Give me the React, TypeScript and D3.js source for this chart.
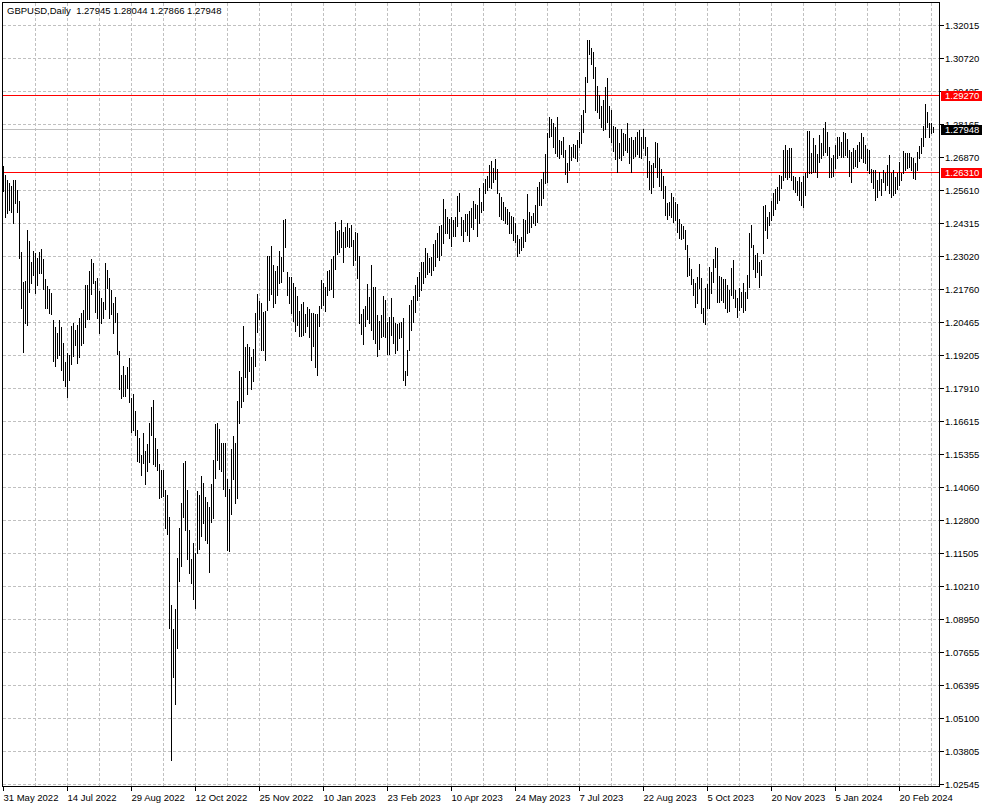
import React from "react";
import * as d3 from "d3";

const symbolTitle = "GBPUSD,Daily";
const lastBarOHLC = [1.27945, 1.28044, 1.27866, 1.27948];
const bidPrice = 1.27948;
const alertLevels = [1.2927, 1.2631];

const priceTickLabels = [
  "1.32015", "1.30720", "1.29425", "1.28165", "1.26870", "1.25610", "1.24315", "1.23020",
  "1.21760", "1.20465", "1.19205", "1.17910", "1.16615", "1.15355", "1.14060", "1.12800",
  "1.11505", "1.10210", "1.08950", "1.07655", "1.06395", "1.05100", "1.03805", "1.02545",
];

const dateLabels = [
  "31 May 2022", "14 Jul 2022", "29 Aug 2022", "12 Oct 2022", "25 Nov 2022", "10 Jan 2023",
  "23 Feb 2023", "10 Apr 2023", "24 May 2023", "7 Jul 2023", "22 Aug 2023", "5 Oct 2023",
  "20 Nov 2023", "5 Jan 2024", "20 Feb 2024",
];
const barsPerDateLabel = 32;
const barsPerGridColumn = 16;

const high = [
  1.2654, 1.2619, 1.2600, 1.2588, 1.2576, 1.2600, 1.2600, 1.2561, 1.2518, 1.2320,
  1.2204, 1.2208, 1.2406, 1.2363, 1.2281, 1.2324, 1.2316, 1.2297, 1.2320, 1.2332,
  1.2293, 1.2215, 1.2188, 1.2176, 1.2161, 1.2056, 1.2029, 1.2006, 1.2056, 1.2029,
  1.1967, 1.1893, 1.1928, 1.1920, 1.2033, 1.2044, 1.2017, 1.2037, 1.2064, 1.2083,
  1.2095, 1.2192, 1.2192, 1.2246, 1.2293, 1.2277, 1.2208, 1.2219, 1.2169, 1.2142,
  1.2126, 1.2277, 1.2250, 1.2219, 1.2173, 1.2122, 1.2145, 1.2083, 1.1936, 1.1843,
  1.1877, 1.1843, 1.1874, 1.1908, 1.1753, 1.1769, 1.1703, 1.1629, 1.1598, 1.1532,
  1.1617, 1.1547, 1.1575, 1.1656, 1.1718, 1.1745, 1.1598, 1.1555, 1.1497, 1.1474,
  1.1474, 1.1396, 1.1376, 1.1291, 1.0949, 1.0856, 1.0934, 1.1132, 1.1248, 1.1346,
  1.1501, 1.1509, 1.1396, 1.1241, 1.1128, 1.1190, 1.1151, 1.1392, 1.1376, 1.1450,
  1.1423, 1.1369, 1.1349, 1.1330, 1.1419, 1.1512, 1.1652, 1.1656, 1.1633, 1.1578,
  1.1578, 1.1578, 1.1439, 1.1400, 1.1555, 1.1606, 1.1578, 1.1742, 1.1858, 1.1835,
  1.2033, 1.1951, 1.1963, 1.1951, 1.1912, 1.1943, 1.2083, 1.2157, 1.2130, 1.2122,
  1.2087, 1.2091, 1.2305, 1.2305, 1.2343, 1.2270, 1.2246, 1.2266, 1.2324, 1.2301,
  1.2444, 1.2448, 1.2242, 1.2223, 1.2223, 1.2200, 1.2184, 1.2149, 1.2091, 1.2118,
  1.2126, 1.2079, 1.2107, 1.2099, 1.2083, 1.2083, 1.2079, 1.2079, 1.2110, 1.2211,
  1.2200, 1.2184, 1.2246, 1.2250, 1.2293, 1.2305, 1.2437, 1.2402, 1.2406, 1.2444,
  1.2398, 1.2417, 1.2433, 1.2413, 1.2425, 1.2367, 1.2398, 1.2394, 1.2305, 1.2079,
  1.2099, 1.2110, 1.2196, 1.2145, 1.2270, 1.2184, 1.2184, 1.2076, 1.2052, 1.2076,
  1.2149, 1.2134, 1.2048, 1.2068, 1.2142, 1.2068, 1.2044, 1.2041, 1.2044, 1.2048,
  1.2064, 1.1858, 1.1940, 1.2114, 1.2134, 1.2149, 1.2192, 1.2223, 1.2242, 1.2281,
  1.2281, 1.2336, 1.2316, 1.2297, 1.2301, 1.2351, 1.2367, 1.2394, 1.2421, 1.2425,
  1.2526, 1.2487, 1.2456, 1.2448, 1.2456, 1.2444, 1.2456, 1.2538, 1.2549, 1.2456,
  1.2444, 1.2468, 1.2468, 1.2479, 1.2491, 1.2518, 1.2506, 1.2503, 1.2569, 1.2514,
  1.2588, 1.2604, 1.2615, 1.2658, 1.2673, 1.2646, 1.2681, 1.2642, 1.2549, 1.2534,
  1.2514, 1.2495, 1.2487, 1.2475, 1.2460, 1.2456, 1.2433, 1.2386, 1.2371, 1.2378,
  1.2448, 1.2444, 1.2545, 1.2475, 1.2460, 1.2472, 1.2503, 1.2573, 1.2592, 1.2604,
  1.2631, 1.2701, 1.2782, 1.2844, 1.2837, 1.2821, 1.2806, 1.2844, 1.2755, 1.2751,
  1.2767, 1.2716, 1.2666, 1.2736, 1.2728, 1.2739, 1.2736, 1.2755, 1.2786, 1.2852,
  1.2872, 1.3000, 1.3143, 1.3143, 1.3112, 1.3097, 1.3038, 1.2965, 1.2930, 1.2887,
  1.2910, 1.2961, 1.2996, 1.2887, 1.2872, 1.2809, 1.2806, 1.2798, 1.2743, 1.2798,
  1.2782, 1.2778, 1.2821, 1.2763, 1.2767, 1.2755, 1.2767, 1.2786, 1.2794, 1.2767,
  1.2798, 1.2767, 1.2728, 1.2673, 1.2658, 1.2666, 1.2747, 1.2743, 1.2685, 1.2642,
  1.2615, 1.2576, 1.2510, 1.2514, 1.2549, 1.2534, 1.2514, 1.2506, 1.2448, 1.2429,
  1.2421, 1.2406, 1.2347, 1.2297, 1.2254, 1.2215, 1.2200, 1.2223, 1.2273, 1.2219,
  1.2103, 1.2180, 1.2196, 1.2262, 1.2242, 1.2293, 1.2340, 1.2336, 1.2227, 1.2223,
  1.2215, 1.2215, 1.2192, 1.2173, 1.2258, 1.2289, 1.2173, 1.2142, 1.2180, 1.2165,
  1.2200, 1.2165, 1.2231, 1.2394, 1.2425, 1.2347, 1.2308, 1.2316, 1.2281, 1.2289,
  1.2499, 1.2503, 1.2456, 1.2475, 1.2518, 1.2549, 1.2565, 1.2573, 1.2619, 1.2615,
  1.2716, 1.2736, 1.2716, 1.2724, 1.2724, 1.2615, 1.2611, 1.2596, 1.2611, 1.2592,
  1.2615, 1.2627, 1.2790, 1.2790, 1.2705, 1.2763, 1.2736, 1.2701, 1.2774, 1.2743,
  1.2802, 1.2825, 1.2786, 1.2728, 1.2685, 1.2697, 1.2736, 1.2767, 1.2767, 1.2747,
  1.2786, 1.2782, 1.2759, 1.2716, 1.2708, 1.2724, 1.2716, 1.2736, 1.2747, 1.2782,
  1.2767, 1.2736, 1.2720, 1.2716, 1.2642, 1.2639, 1.2639, 1.2600, 1.2631, 1.2604,
  1.2639, 1.2627, 1.2658, 1.2697, 1.2627, 1.2639, 1.2611, 1.2627, 1.2670, 1.2627,
  1.2712, 1.2705, 1.2705, 1.2705, 1.2689, 1.2685, 1.2666, 1.2708, 1.2732, 1.2763,
  1.2809, 1.2895, 1.2864, 1.2821, 1.2821, 1.28044,
];

const low = [
  1.2557, 1.2456, 1.2472, 1.2483, 1.2475, 1.2433, 1.2510, 1.2475, 1.2297, 1.2103,
  1.1932, 1.2044, 1.2037, 1.2165, 1.2200, 1.2231, 1.2161, 1.2192, 1.2239, 1.2239,
  1.2176, 1.2103, 1.2103, 1.2083, 1.2079, 1.1897, 1.1877, 1.1908, 1.1920, 1.1862,
  1.1823, 1.1800, 1.1757, 1.1823, 1.1885, 1.1916, 1.1959, 1.1889, 1.1912, 1.1959,
  1.1967, 1.2029, 1.2060, 1.2060, 1.2157, 1.2200, 1.2087, 1.2064, 1.2006, 1.2044,
  1.2064, 1.2099, 1.2180, 1.2064, 1.2079, 1.2006, 1.2048, 1.1924, 1.1788, 1.1753,
  1.1761, 1.1761, 1.1792, 1.1738, 1.1621, 1.1629, 1.1610, 1.1509, 1.1505, 1.1454,
  1.1501, 1.1419, 1.1470, 1.1505, 1.1610, 1.1497, 1.1489, 1.1474, 1.1365, 1.1369,
  1.1373, 1.1248, 1.1225, 1.0860, 1.0348, 1.0670, 1.0565, 1.0782, 1.1043, 1.1101,
  1.1291, 1.1241, 1.1128, 1.1074, 1.1035, 1.0973, 1.0938, 1.1151, 1.1167, 1.1217,
  1.1268, 1.1202, 1.1190, 1.1078, 1.1272, 1.1287, 1.1443, 1.1512, 1.1478, 1.1470,
  1.1400, 1.1373, 1.1163, 1.1159, 1.1303, 1.1439, 1.1346, 1.1365, 1.1656, 1.1718,
  1.1742, 1.1835, 1.1769, 1.1858, 1.1788, 1.1819, 1.1877, 1.2009, 1.2060, 1.1940,
  1.1940, 1.1901, 1.2095, 1.2134, 1.2157, 1.2107, 1.2122, 1.2153, 1.2200, 1.2204,
  1.2246, 1.2340, 1.2153, 1.2122, 1.2083, 1.2052, 1.2013, 1.2037, 1.1994, 1.1994,
  1.1998, 1.2009, 1.2033, 1.1990, 1.1901, 1.1955, 1.1874, 1.1843, 1.2033, 1.2103,
  1.2114, 1.2091, 1.2153, 1.2173, 1.2176, 1.2145, 1.2254, 1.2312, 1.2320, 1.2340,
  1.2281, 1.2340, 1.2343, 1.2340, 1.2343, 1.2270, 1.2289, 1.2219, 1.2044, 1.2002,
  1.1963, 1.2033, 1.2060, 1.2044, 1.2017, 1.1982, 1.1967, 1.1916, 1.1943, 1.1990,
  1.1994, 1.1990, 1.1924, 1.1924, 1.1998, 1.1967, 1.1928, 1.1940, 1.1986, 1.1990,
  1.1823, 1.1804, 1.1843, 1.1940, 1.2017, 1.2048, 1.2087, 1.2134, 1.2149, 1.2173,
  1.2200, 1.2220, 1.2235, 1.2240, 1.2230, 1.2250, 1.2265, 1.2301, 1.2289, 1.2308,
  1.2355, 1.2394, 1.2394, 1.2374, 1.2343, 1.2382, 1.2382, 1.2421, 1.2479, 1.2386,
  1.2363, 1.2402, 1.2386, 1.2363, 1.2417, 1.2409, 1.2452, 1.2382, 1.2433, 1.2475,
  1.2483, 1.2549, 1.2561, 1.2573, 1.2569, 1.2592, 1.2604, 1.2549, 1.2460, 1.2448,
  1.2444, 1.2433, 1.2429, 1.2394, 1.2394, 1.2367, 1.2359, 1.2305, 1.2316, 1.2328,
  1.2340, 1.2363, 1.2394, 1.2398, 1.2417, 1.2433, 1.2425, 1.2437, 1.2503, 1.2503,
  1.2530, 1.2588, 1.2592, 1.2767, 1.2771, 1.2728, 1.2705, 1.2693, 1.2685, 1.2701,
  1.2689, 1.2623, 1.2592, 1.2639, 1.2677, 1.2689, 1.2685, 1.2673, 1.2728, 1.2743,
  1.2786, 1.2864, 1.2980, 1.3089, 1.3050, 1.2996, 1.2872, 1.2864, 1.2840, 1.2806,
  1.2794, 1.2798, 1.2825, 1.2767, 1.2747, 1.2712, 1.2681, 1.2631, 1.2685, 1.2677,
  1.2697, 1.2716, 1.2708, 1.2666, 1.2631, 1.2685, 1.2693, 1.2701, 1.2689, 1.2685,
  1.2724, 1.2697, 1.2611, 1.2565, 1.2549, 1.2573, 1.2650, 1.2611, 1.2576, 1.2561,
  1.2530, 1.2464, 1.2448, 1.2464, 1.2456, 1.2437, 1.2444, 1.2398, 1.2374, 1.2371,
  1.2374, 1.2332, 1.2227, 1.2231, 1.2196, 1.2153, 1.2107, 1.2122, 1.2180, 1.2083,
  1.2048, 1.2041, 1.2103, 1.2103, 1.2161, 1.2204, 1.2262, 1.2126, 1.2126, 1.2134,
  1.2126, 1.2103, 1.2087, 1.2091, 1.2153, 1.2142, 1.2107, 1.2068, 1.2095, 1.2107,
  1.2087, 1.2095, 1.2142, 1.2184, 1.2340, 1.2254, 1.2223, 1.2242, 1.2184, 1.2231,
  1.2316, 1.2406, 1.2374, 1.2425, 1.2444, 1.2464, 1.2487, 1.2510, 1.2522, 1.2569,
  1.2600, 1.2611, 1.2604, 1.2611, 1.2600, 1.2565, 1.2553, 1.2541, 1.2522, 1.2503,
  1.2495, 1.2541, 1.2611, 1.2627, 1.2627, 1.2631, 1.2631, 1.2611, 1.2670, 1.2685,
  1.2697, 1.2708, 1.2697, 1.2611, 1.2611, 1.2615, 1.2646, 1.2685, 1.2697, 1.2689,
  1.2689, 1.2697, 1.2689, 1.2615, 1.2592, 1.2646, 1.2654, 1.2650, 1.2673, 1.2685,
  1.2670, 1.2666, 1.2639, 1.2627, 1.2592, 1.2569, 1.2522, 1.2534, 1.2561, 1.2541,
  1.2592, 1.2561, 1.2580, 1.2549, 1.2534, 1.2541, 1.2549, 1.2565, 1.2580, 1.2600,
  1.2627, 1.2639, 1.2646, 1.2650, 1.2639, 1.2607, 1.2604, 1.2639, 1.2685, 1.2705,
  1.2732, 1.2767, 1.2806, 1.2767, 1.2782, 1.27866,
];

const FONT = "'Liberation Sans', Arial, sans-serif";

export default function App() {
  const W = 985;
  const H = 808;
  const frameL = 2.5;
  const frameR = 939.5;
  const frameT = 2.5;
  const frameB = 786.5;

  const n = high.length;
  const x = d3.scaleLinear().domain([0, n - 1]).range([3, 3 + 2 * (n - 1)]);
  const y = d3.scaleLinear().domain([1.02545, 1.32015]).range([784, 25]);
  const snap = (v: number) => Math.round(y(v) - 0.3);

  const fmt = d3.format(".5f");
  const tickValues = priceTickLabels.map((s) => +s);

  const gridCols = d3.range(barsPerGridColumn, n, barsPerGridColumn);
  const dateIdx = dateLabels.map((_, k) => k * barsPerDateLabel);

  return (
    <svg
      width={W}
      height={H}
      viewBox={`0 0 ${W} ${H}`}
      style={{ position: "absolute", left: 0, top: 0, background: "#ffffff" }}
      fontFamily={FONT}
    >
      <rect x={0} y={0} width={W} height={H} fill="#ffffff" />

      {/* horizontal grid */}
      {tickValues.map((v, k) => (
        <line
          key={"hg" + k}
          x1={frameL}
          x2={frameR}
          y1={snap(v) + 0.5}
          y2={snap(v) + 0.5}
          stroke="#c0c0c0"
          strokeDasharray="3,2"
          shapeRendering="crispEdges"
        />
      ))}
      {/* vertical grid */}
      {gridCols.map((i) => (
        <line
          key={"vg" + i}
          x1={x(i) + 0.5}
          x2={x(i) + 0.5}
          y1={frameT}
          y2={frameB}
          stroke="#c0c0c0"
          strokeDasharray="3,2"
          shapeRendering="crispEdges"
        />
      ))}

      {/* alert levels and bid line */}
      {alertLevels.map((v, k) => (
        <line
          key={"al" + k}
          x1={frameL}
          x2={frameR}
          y1={snap(v) + 0.5}
          y2={snap(v) + 0.5}
          stroke="#ff0000"
          shapeRendering="crispEdges"
        />
      ))}
      <line
        x1={frameL}
        x2={frameR}
        y1={snap(bidPrice) + 0.5}
        y2={snap(bidPrice) + 0.5}
        stroke="#c0c0c0"
        shapeRendering="crispEdges"
      />

      {/* bars */}
      {high.map((h, i) => {
        const yt = snap(h);
        const yb = snap(low[i]);
        return (
          <rect
            key={"b" + i}
            x={x(i)}
            y={yt}
            width={1}
            height={Math.max(1, yb - yt + 1)}
            fill="#000000"
            shapeRendering="crispEdges"
          />
        );
      })}

      {/* frame */}
      <rect
        x={frameL}
        y={frameT}
        width={frameR - frameL}
        height={frameB - frameT}
        fill="none"
        stroke="#000000"
        shapeRendering="crispEdges"
      />

      {/* right price axis */}
      {tickValues.map((v, k) => (
        <g key={"pt" + k}>
          <line
            x1={frameR}
            x2={frameR + 4}
            y1={snap(v) + 0.5}
            y2={snap(v) + 0.5}
            stroke="#000000"
            shapeRendering="crispEdges"
          />
          <text x={945} y={snap(v) + 3.8} fontSize={9.5} fill="#000000">
            {priceTickLabels[k]}
          </text>
        </g>
      ))}

      {/* level tags */}
      {alertLevels.map((v, k) => (
        <g key={"tag" + k}>
          <rect x={941} y={snap(v) - 4} width={41} height={10} fill="#ff0000" />
          <text x={945} y={snap(v) + 4.3} fontSize={9.5} fill="#ffffff">
            {fmt(v)}
          </text>
        </g>
      ))}
      <g>
        <rect x={941} y={snap(bidPrice) - 4} width={41} height={10} fill="#000000" />
        <text x={945} y={snap(bidPrice) + 4.3} fontSize={9.5} fill="#ffffff">
          {fmt(bidPrice)}
        </text>
      </g>

      {/* bottom date axis */}
      {dateIdx.map((i, k) => (
        <g key={"dt" + k}>
          <line
            x1={x(i) + 0.5}
            x2={x(i) + 0.5}
            y1={frameB}
            y2={frameB + 4}
            stroke="#000000"
            shapeRendering="crispEdges"
          />
          <text x={x(i) + 0.5} y={800.5} fontSize={9.5} fill="#000000">
            {dateLabels[k]}
          </text>
        </g>
      ))}

      {/* header */}
      <text x={7} y={14} fontSize={9.5} fill="#000000" style={{ whiteSpace: "pre" }}>
        {symbolTitle + "  " + lastBarOHLC.map((v) => fmt(v)).join(" ")}
      </text>
    </svg>
  );
}
